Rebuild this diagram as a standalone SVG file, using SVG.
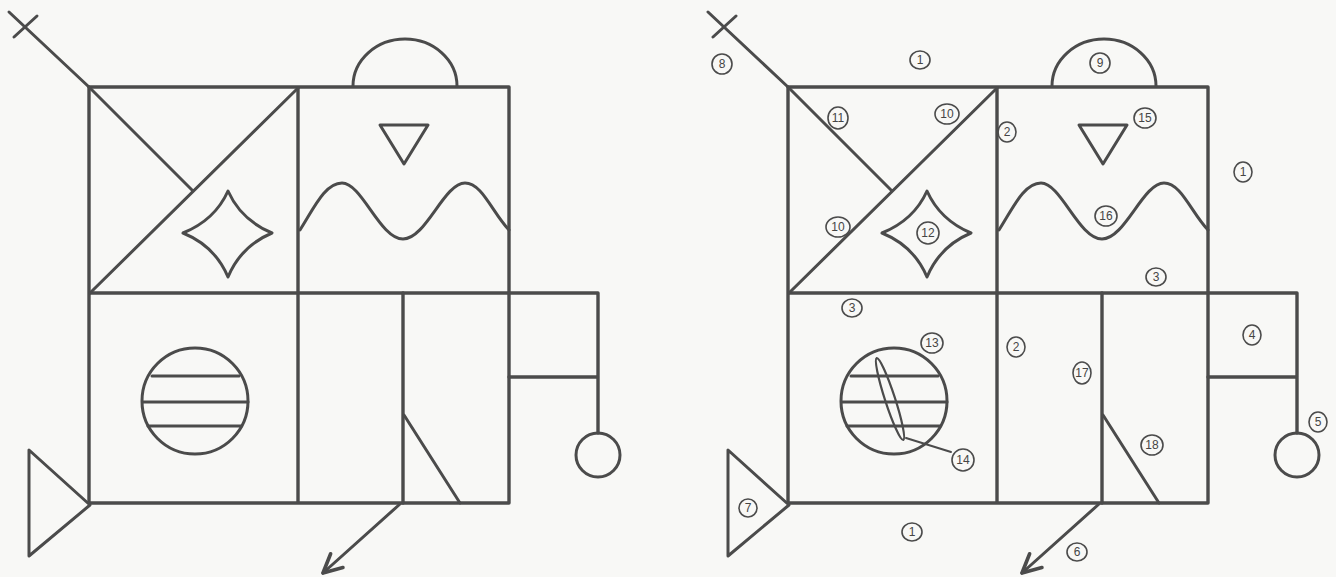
<svg xmlns="http://www.w3.org/2000/svg" xmlns:xlink="http://www.w3.org/1999/xlink" width="1336" height="577" viewBox="0 0 1336 577">
<style>
.ln{fill:none;stroke:#4b4b4b;stroke-width:3.4;stroke-linejoin:round;stroke-linecap:round}
.th{fill:none;stroke:#4b4b4b;stroke-width:3;stroke-linejoin:round;stroke-linecap:round}
.lc{fill:none;stroke:#4b4b4b;stroke-width:1.6}
.lt{font-family:"Liberation Sans",Arial,sans-serif;font-size:12px;fill:#454545;text-anchor:middle;dominant-baseline:central}
</style>
<defs>
<marker id="ah" markerUnits="userSpaceOnUse" markerWidth="30" markerHeight="30" refX="0" refY="0" viewBox="-22 -12 26 24" orient="auto">
<path d="M-16,-8 L0,0 L-16,8" fill="none" stroke="#4b4b4b" stroke-width="3.2" stroke-linecap="round" stroke-linejoin="round"/>
</marker>
<g id="figure">
<g id="cross"><path class="th" d="M9,12 L89,87 M14,37 L37,16"/></g>
<g id="frame"><path class="ln" d="M89,87 H509 V503 H89 Z M298,87 V503 M89,293 H509"/></g>
<g id="diagonals"><path class="th" d="M298,88 L90,293 M89,87 L193,191"/></g>
<g id="star"><path class="th" d="M228,191 Q241,220 272,233 Q241,246 228,277 Q215,246 183,233 Q215,220 228,191 Z"/></g>
<g id="semicircle"><path class="th" d="M353,86 A52,47 0 0 1 457,86"/></g>
<g id="triangle-down"><path class="th" d="M380,125 H428 L404,164 Z"/></g>
<g id="wave"><path class="th" d="M300,230 C314,208 325,183 342,183 C362,183 380,239 403,239 C426,239 444,183 465,183 C482,183 492,212 509,230"/></g>
<g id="right-box"><path class="ln" d="M509,293 H598 V433 M509,377 H598"/><circle class="th" cx="598" cy="455" r="22"/></g>
<g id="lower-right"><path class="ln" d="M403,293 V503"/><path class="th" d="M404,415 L460,503"/></g>
<g id="arrow"><path class="th" d="M400,504 L323,573" marker-end="url(#ah)"/></g>
<g id="circle-lines"><circle class="th" cx="195" cy="401" r="53"/><path class="th" d="M152,376 H239 M143,402 H248 M148,426 H241"/></g>
<g id="triangle-left"><path class="th" d="M29,450 L29,556 L90,505 Z"/></g>
</g>
</defs>
<rect width="1336" height="577" fill="#f8f8f6"/>
<g id="figure-plain"><use href="#figure" xlink:href="#figure"/></g>
<g id="figure-scored" transform="translate(699,0)"><use href="#figure" xlink:href="#figure"/></g>
<g id="ellipse-14"><ellipse class="th" cx="890" cy="399" rx="5" ry="43" transform="rotate(-18 890 399)" style="stroke-width:2.2"/><path class="th" d="M906,438 L951,452" style="stroke-width:2"/></g>
<g id="labels">
<g><circle class="lc" cx="722" cy="64" r="10"/><text class="lt" x="722" y="64">8</text></g>
<g><ellipse class="lc" cx="920" cy="60" rx="10" ry="9"/><text class="lt" x="920" y="60">1</text></g>
<g><ellipse class="lc" cx="838" cy="118" rx="10" ry="11"/><text class="lt" x="838" y="118">11</text></g>
<g><ellipse class="lc" cx="947" cy="114" rx="12" ry="10"/><text class="lt" x="947" y="114">10</text></g>
<g><ellipse class="lc" cx="1007" cy="132" rx="9" ry="10"/><text class="lt" x="1007" y="132">2</text></g>
<g><ellipse class="lc" cx="838" cy="227" rx="12" ry="10"/><text class="lt" x="838" y="227">10</text></g>
<g><ellipse class="lc" cx="928" cy="233" rx="11" ry="11"/><text class="lt" x="928" y="233">12</text></g>
<g><ellipse class="lc" cx="1100" cy="63" rx="10" ry="10"/><text class="lt" x="1100" y="63">9</text></g>
<g><ellipse class="lc" cx="1145" cy="118" rx="11" ry="10"/><text class="lt" x="1145" y="118">15</text></g>
<g><ellipse class="lc" cx="1243" cy="172" rx="9" ry="10"/><text class="lt" x="1243" y="172">1</text></g>
<g><ellipse class="lc" cx="1106" cy="216" rx="11" ry="10"/><text class="lt" x="1106" y="216">16</text></g>
<g><ellipse class="lc" cx="1156" cy="277" rx="10" ry="9"/><text class="lt" x="1156" y="277">3</text></g>
<g><ellipse class="lc" cx="852" cy="308" rx="10" ry="9"/><text class="lt" x="852" y="308">3</text></g>
<g><ellipse class="lc" cx="932" cy="343" rx="11" ry="10"/><text class="lt" x="932" y="343">13</text></g>
<g><ellipse class="lc" cx="1016" cy="347" rx="9" ry="10"/><text class="lt" x="1016" y="347">2</text></g>
<g><ellipse class="lc" cx="1082" cy="373" rx="9" ry="11"/><text class="lt" x="1082" y="373">17</text></g>
<g><ellipse class="lc" cx="963" cy="460" rx="11" ry="11"/><text class="lt" x="963" y="460">14</text></g>
<g><ellipse class="lc" cx="912" cy="532" rx="10" ry="9"/><text class="lt" x="912" y="532">1</text></g>
<g><ellipse class="lc" cx="1077" cy="552" rx="10" ry="9"/><text class="lt" x="1077" y="552">6</text></g>
<g><ellipse class="lc" cx="1252" cy="335" rx="9" ry="10"/><text class="lt" x="1252" y="335">4</text></g>
<g><ellipse class="lc" cx="1318" cy="422" rx="9" ry="10"/><text class="lt" x="1318" y="422">5</text></g>
<g><ellipse class="lc" cx="1152" cy="445" rx="11" ry="10"/><text class="lt" x="1152" y="445">18</text></g>
<g><ellipse class="lc" cx="748" cy="508" rx="9" ry="9"/><text class="lt" x="748" y="508">7</text></g>
</g>
</svg>
